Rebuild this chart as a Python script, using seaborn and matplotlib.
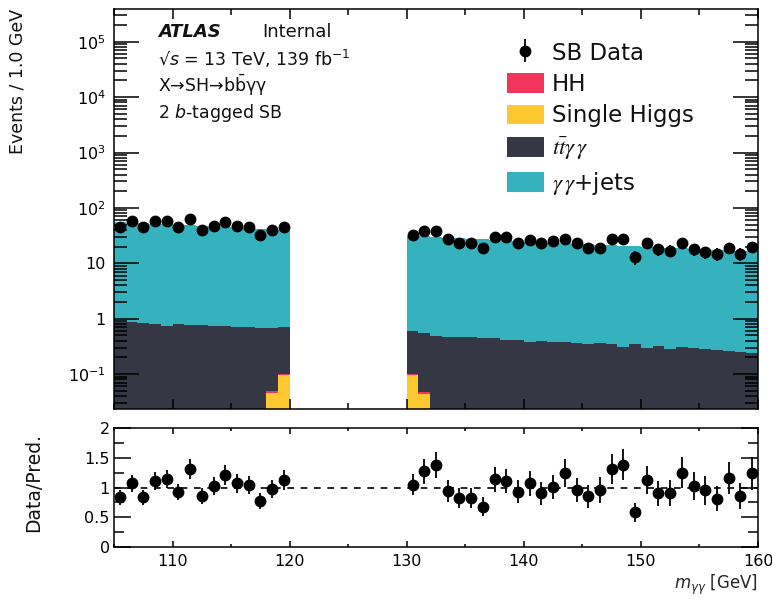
import numpy as np
import pandas as pd
import matplotlib
matplotlib.use("Agg")
import matplotlib.pyplot as plt
import matplotlib.patches as mpatches
from matplotlib.ticker import FixedLocator, FuncFormatter, LogLocator, NullFormatter, MultipleLocator
import seaborn as sns

# ---------------- data ----------------
left_centers = np.arange(105.5, 120.0, 1.0)
right_centers = np.arange(130.5, 160.0, 1.0)

data_left = [46, 58, 46, 58, 59, 46, 64, 40, 47, 56, 48, 46, 32, 40, 46]
data_right = [33, 39, 39, 27, 23, 23, 19, 30, 30, 23, 26, 23, 25, 28, 23,
              19, 19, 28, 28, 13, 23, 18, 17, 23, 18, 16, 15, 19, 15, 20]

total_left = [55, 54, 53, 52, 51, 50, 49, 47, 46, 45.5, 45, 44, 42, 41, 40.5]
total_right = [31.5, 30.5, 29.5, 28.8, 28.2, 27.6, 27, 26.4, 25.8, 25.3,
               24.7, 24.2, 23.7, 23.2, 22.7, 22.2, 21.7, 21.2, 20.8, 20.4,
               20, 19.5, 19.1, 18.7, 18.3, 17.9, 17.5, 17.2, 16.8, 16.5]

tt_left = [0.88, 0.88, 0.84, 0.80, 0.75, 0.79, 0.77, 0.76, 0.73, 0.73,
           0.71, 0.71, 0.69, 0.64, 0.61]
tt_right = [0.50, 0.50, 0.48, 0.46, 0.46, 0.465, 0.455, 0.44, 0.42, 0.415,
            0.383, 0.39, 0.383, 0.383, 0.367, 0.348, 0.367, 0.355, 0.31, 0.348,
            0.29, 0.32, 0.288, 0.31, 0.29, 0.278, 0.273, 0.266, 0.252, 0.244]

sh_left = [0]*13 + [0.045, 0.095]
sh_right = [0.095, 0.043] + [0]*28

hh_left = [0]*13 + [0.004, 0.005]
hh_right = [0.005, 0.004] + [0]*28

ratio_left = [0.835, 1.07, 0.835, 1.11, 1.14, 0.92, 1.31, 0.86, 1.025, 1.21,
              1.07, 1.04, 0.77, 0.97, 1.126]
ratio_right = [1.05, 1.27, 1.38, 0.946, 0.82, 0.82, 0.68, 1.14, 1.11, 0.93,
               1.07, 0.90, 1.01, 1.24, 0.96, 0.85, 0.96, 1.31, 1.38, 0.58,
               1.13, 0.90, 0.90, 1.25, 1.025, 0.95, 0.81, 1.165, 0.86, 1.24]

processes = [r"$\gamma\,\gamma$+jets", r"$t\bar{t}\gamma\,\gamma$", "HH", "Single Higgs"]
colors = {"HH": "#f2365b", "Single Higgs": "#fdc830",
          r"$t\bar{t}\gamma\,\gamma$": "#353844", r"$\gamma\,\gamma$+jets": "#36b2bf"}
legend_order = ["HH", "Single Higgs", r"$t\bar{t}\gamma\,\gamma$", r"$\gamma\,\gamma$+jets"]

# ---------------- assemble ----------------
centers = np.concatenate([left_centers, right_centers])
data = np.array(data_left + data_right, dtype=float)
total = np.array(total_left + total_right)
tt = np.array(tt_left + tt_right)
sh = np.array(sh_left + sh_right)
hh = np.array(hh_left + hh_right)
gg = total - tt - sh - hh
ratio = np.array(ratio_left + ratio_right)

rows = []
for name, vals in zip(processes, [gg, tt, hh, sh]):
    for c, v in zip(centers, vals):
        rows.append({"m": c, "w": v, "process": name})
df = pd.DataFrame(rows)

# ---------------- style ----------------
sns.set_style("ticks")
plt.rcParams["font.family"] = ["DejaVu Sans"]
plt.rcParams["mathtext.fontset"] = "dejavusans"
plt.rcParams["axes.linewidth"] = 1.1
plt.rcParams["axes.axisbelow"] = False
plt.rcParams["xtick.color"] = "black"
plt.rcParams["ytick.color"] = "black"
plt.rcParams["axes.edgecolor"] = "black"
plt.rcParams["text.color"] = "#111111"

fig = plt.figure(figsize=(7.72, 5.99), dpi=100)
ax = fig.add_axes([114/772, 1-409/599, 644/772, 400/599])
axr = fig.add_axes([114/772, 1-547/599, 644/772, 119/599])

ax.set_yscale("log")
sns.histplot(data=df, x="m", weights="w", hue="process", hue_order=processes,
             palette=colors, multiple="stack", binwidth=1, binrange=(105, 160),
             element="step", fill=True, alpha=1, linewidth=0, legend=False, ax=ax)

eb = ax.errorbar(centers, data, yerr=np.sqrt(data), fmt="o", color="black",
                 markersize=7.5, elinewidth=1.3, capsize=0, zorder=5)

ax.set_xlim(105, 160)
ax.set_ylim(0.0234, 3.9e5)
ax.set_xlabel("")
ax.set_ylabel("")
ax.set_axisbelow(False)
axr.set_axisbelow(False)

ax.yaxis.set_major_locator(FixedLocator([0.1, 1, 10, 1e2, 1e3, 1e4, 1e5]))
def fmt_log(v, pos):
    if abs(v - 1) < 1e-9:
        return "1"
    if abs(v - 10) < 1e-9:
        return "10"
    return r"$10^{%d}$" % int(round(np.log10(v)))
ax.yaxis.set_major_formatter(FuncFormatter(fmt_log))
ax.yaxis.set_minor_locator(LogLocator(base=10, subs=np.arange(2, 10), numticks=30))
ax.yaxis.set_minor_formatter(NullFormatter())
ax.xaxis.set_major_locator(MultipleLocator(10))
ax.xaxis.set_minor_locator(MultipleLocator(5))
ax.tick_params(which="both", direction="in", top=True, right=True, bottom=True, left=True,
               labelbottom=False, labelsize=11.5, width=1.1, color="black")
ax.tick_params(axis="y", which="major", length=18, pad=6)
ax.tick_params(axis="y", which="minor", length=9.5)
ax.tick_params(axis="x", which="major", length=7)
ax.tick_params(axis="x", which="minor", length=4)

fig.text(18/772, 1-9/599, "Events / 1.0 GeV", rotation=90, ha="center", va="top",
         fontsize=12.5)

# annotations
ax.text(0.0683, 0.931, "ATLAS", transform=ax.transAxes, fontsize=13,
        fontweight="bold", fontstyle="italic", va="baseline")
ax.text(0.2298, 0.931, "Internal", transform=ax.transAxes, fontsize=13, va="baseline")
ax.text(0.0683, 0.8575, "\u221a" + r"$s$ = 13 TeV, 139 fb$^{-1}$", transform=ax.transAxes,
        fontsize=12.5, va="baseline")
ax.text(0.0683, 0.793, "X\u2192SH\u2192b" + r"$\bar{\mathrm{b}}$" + "\u03b3\u03b3",
        transform=ax.transAxes, fontsize=12.5, va="baseline")
ax.text(0.0683, 0.727, r"2 $b$-tagged SB", transform=ax.transAxes, fontsize=12.5,
        va="baseline")

handles = [eb] + [mpatches.Patch(facecolor=colors[p], linewidth=0) for p in legend_order]
labels = ["SB Data"] + legend_order
leg = ax.legend(handles, labels, loc="upper left", bbox_to_anchor=(0.610, 0.918),
                frameon=False, borderpad=0, borderaxespad=0, fontsize=16.5,
                handlelength=1.6, handleheight=0.95, labelspacing=0.36,
                handletextpad=0.35)
for t in leg.get_texts():
    if "gamma" in t.get_text():
        t.set_math_fontfamily("stix")

# ---------------- ratio panel ----------------
axr.axhline(1.0, color="black", lw=1.2, ls=(0, (4, 4)), zorder=1)
axr.errorbar(centers, ratio, yerr=ratio/np.sqrt(data), fmt="o", color="black",
             markersize=7.5, elinewidth=1.3, capsize=0, zorder=5)
axr.set_xlim(105, 160)
axr.set_ylim(0, 2)
axr.yaxis.set_major_locator(FixedLocator([0, 0.5, 1, 1.5, 2]))
axr.yaxis.set_major_formatter(FuncFormatter(lambda v, p: "%g" % v))
axr.yaxis.set_minor_locator(MultipleLocator(0.25))
axr.xaxis.set_major_locator(MultipleLocator(10))
axr.xaxis.set_minor_locator(MultipleLocator(5))
axr.tick_params(which="both", direction="in", top=True, right=True, bottom=True, left=True,
                labelsize=11.5, width=1.1, color="black")
axr.tick_params(axis="y", which="major", length=12, pad=3)
axr.tick_params(axis="y", which="minor", length=7)
axr.tick_params(axis="x", which="major", length=4.5, pad=5)
axr.tick_params(axis="x", which="minor", length=2.5)
fig.text(34/772, 1-483/599, "Data/Pred.", rotation=90, ha="center", va="center",
         fontsize=13.5)
axr.set_xlabel(r"$m_{\gamma\gamma}$ [GeV]", fontsize=12, loc="right", labelpad=3)

fig.savefig("out.png", dpi=100)
